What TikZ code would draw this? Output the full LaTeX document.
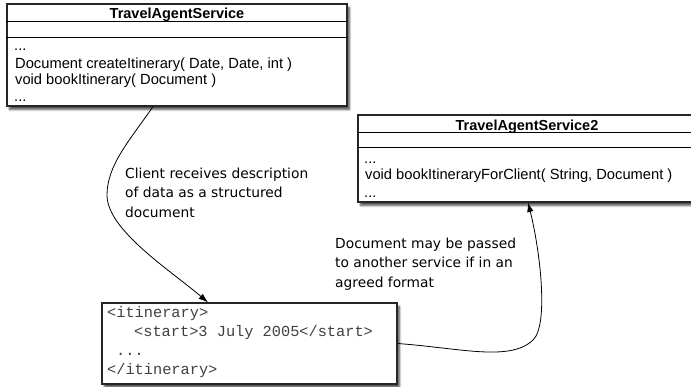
\documentclass[tikz,border=0pt]{standalone}
\usepackage{fontspec}
\setmainfont{Liberation Sans}
\newfontfamily\codefont{Liberation Mono}
\newfontfamily\notefont{DejaVu Sans}
\usetikzlibrary{arrows.meta,shadows.blur}

\tikzset{
  classbox/.style={draw=black!85, line width=1.1pt, fill=white, inner sep=0pt,
    blur shadow={shadow xshift=2.5pt, shadow yshift=-3.5pt, shadow blur steps=6, shadow opacity=70}},
  classname/.style={font=\fontsize{14.5}{17}\selectfont\bfseries, inner sep=0pt, anchor=base},
  member/.style={font=\fontsize{14.7}{17}\selectfont, inner sep=0pt, anchor=base west},
  codeline/.style={font=\codefont\fontsize{15.3}{19}\selectfont, text=black!75, inner sep=0pt, anchor=base west},
  note/.style={font=\notefont\fontsize{13.8}{19.5}\selectfont, inner sep=0pt, anchor=base west, align=left},
  flow/.style={line width=0.8pt, -{Latex[length=9.5pt,width=6.5pt]}},
}

\begin{document}
\begin{tikzpicture}[x=1pt,y=-1pt]
\useasboundingbox (0,0) rectangle (691,386);

% the two services
\node[classbox, minimum width=340pt, minimum height=102pt] (tas) at (177,55) {};
\draw[line width=1pt] ([yshift=-18pt]tas.north west) -- ([yshift=-18pt]tas.north east);
\draw[line width=1pt] ([yshift=-34pt]tas.north west) -- ([yshift=-34pt]tas.north east);
\node[classname] (tasname) at (177,18) {TravelAgentService};
\node[member] (tasdotsa) at (14,50) {...};
\node[member] (tascreate) at (15,68) {Document createItinerary( Date, Date, int )};
\node[member] (tasbook) at (15,84) {void bookItinerary( Document )};
\node[member] (tasdotsb) at (14,101) {...};

\node[classbox, minimum width=338pt, minimum height=87pt] (tastwo) at (527,158.5) {};
\draw[line width=1pt] ([yshift=-18pt]tastwo.north west) -- ([yshift=-18pt]tastwo.north east);
\draw[line width=1pt] ([yshift=-33pt]tastwo.north west) -- ([yshift=-33pt]tastwo.north east);
\node[classname] (tastwoname) at (527,130) {TravelAgentService2};
\node[member] (tastwodotsa) at (364,163) {...};
\node[member] (tastwobook) at (365,179) {void bookItineraryForClient( String, Document )};
\node[member] (tastwodotsb) at (364,197) {...};

% the document
\node[classbox, minimum width=295pt, minimum height=81pt] (itin) at (249.5,343.5) {};
\node[codeline] (itinopen) at (107,317) {<itinerary>};
\node[codeline] (itinstart) at (134,336) {<start>3 July 2005</start>};
\node[codeline] (itindots) at (116,355) {...};
\node[codeline] (itinclose) at (107,374) {</itinerary>};

% notes (base is the last line)
\node[note] (noteclient) at (125,217) {Client receives description\\of data as a structured\\document};
\node[note] (notepass) at (335,287) {Document may be passed\\to another service if in an\\agreed format};

% connectors
\draw[flow] ([xshift=-24pt]tas.south) .. controls (130,140) and (107,165) .. (107,195)
  .. controls (107,230) and (170,270) .. ([xshift=-41.5pt]itin.north);
\draw[flow] (itin.east) .. controls (460,348) and (510,362) .. (533,340)
  .. controls (549,325) and (540,250) .. ([xshift=1pt]tastwo.south);
\end{tikzpicture}
\end{document}
